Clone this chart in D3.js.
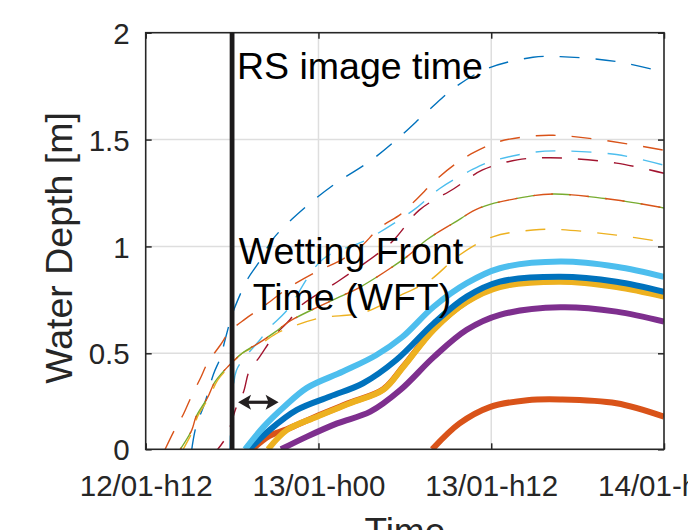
<!DOCTYPE html>
<html>
<head>
<meta charset="utf-8">
<script src="https://cdn.jsdelivr.net/npm/d3@7"></script>
<style>
  body { margin: 0; background: #fff; }
  svg { font-family: "Liberation Sans", Arial, sans-serif; }
</style>
</head>
<body>
<div id="chart-area"></div>
<script>
// x values are hours after 12/01-h12, y values water depth in m
const tickHours = [0, 12, 24, 36];
const tickLabels = ['12/01-h12', '13/01-h00', '13/01-h12', '14/01-h00'];
const depthTicks = [0, 0.5, 1, 1.5, 2];
const rsImageHour = 6;

// thin dashed series
const dashBlue = [[3.2,0],[3.5,0.12],[4.1,0.24],[4.7,0.39],[5.2,0.48],[5.5,0.56],[6.0,0.68],[6.4,0.75],[7.1,0.85],[7.8,0.92],[8.9,1.04],[11.2,1.19],[13.3,1.3],[15.6,1.4],[17.6,1.51],[19.7,1.64],[21.6,1.75],[23.8,1.834],[26.9,1.885],[28.8,1.888],[32.7,1.865],[36,1.815]];
const dashOrange = [[1.35,0],[2.0,0.1],[2.6,0.18],[3.2,0.28],[3.8,0.37],[4.3,0.45],[5.2,0.54],[5.8,0.6],[6.9,0.66],[8.2,0.72],[10.0,0.81],[12.1,0.89],[13.4,0.93],[14.8,0.99],[16.3,1.09],[17.7,1.15],[18.8,1.22],[20.3,1.32],[21.6,1.39],[22.8,1.44],[24.5,1.49],[26.5,1.514],[28.3,1.52],[31.5,1.5],[36,1.45]];
const dashLightBlue = [[5.85,0],[6.0,0.25],[6.3,0.41],[6.9,0.48],[7.9,0.56],[8.6,0.62],[9.8,0.7],[12.3,0.94],[15.3,1.03],[18.6,1.17],[20.4,1.27],[22.7,1.36],[24.1,1.4],[26.9,1.44],[28.5,1.447],[32.7,1.43],[36,1.38]];
const dashDarkRed = [[5.0,0],[5.6,0.065],[6.3,0.22],[6.8,0.3],[7.2,0.41],[7.9,0.48],[8.9,0.58],[10.0,0.656],[10.7,0.718],[13.5,0.843],[17.0,1.015],[19.0,1.17],[21.4,1.27],[23.4,1.358],[25.8,1.405],[28.1,1.415],[32.7,1.39],[36,1.342]];
const dashGreen = [[2.4,0],[3.2,0.1],[3.5,0.17],[4.3,0.27],[4.8,0.35],[5.7,0.43],[6.7,0.5],[7.9,0.55],[9.0,0.6],[10.0,0.65],[13.5,0.765],[14.9,0.81],[18.1,0.95],[19.5,1.03],[21.4,1.11],[23.2,1.18],[25.8,1.225],[28.3,1.245],[32.7,1.217],[36,1.18]];
const dashYellow = [[2.6,0],[3.3,0.1],[3.6,0.17],[4.4,0.27],[5.0,0.36],[5.8,0.43],[6.7,0.5],[7.9,0.54],[9.0,0.59],[10.0,0.62],[12.1,0.665],[15.1,0.69],[17.5,0.765],[19.7,0.84],[21.8,0.96],[24.1,1.045],[26.9,1.077],[28.5,1.08],[32.7,1.053],[36,1.02]];

// thick solid series
const solidOrangeEarly = [[7.4,0],[8.6,0.07],[9.8,0.104],[11.9,0.173],[14.2,0.243],[16.5,0.313],[17.9,0.433],[20.0,0.613],[22.3,0.743],[24.6,0.813],[28.8,0.838],[32.7,0.813],[36,0.768]];
const solidYellow = [[8.5,0],[9.8,0.1],[11.9,0.17],[14.2,0.24],[16.5,0.31],[17.9,0.43],[20.0,0.61],[22.3,0.74],[24.6,0.81],[28.8,0.835],[32.7,0.81],[36,0.765]];
const solidBlue = [[7.2,0],[8.6,0.1],[10.5,0.205],[12.8,0.275],[15.1,0.344],[17.4,0.465],[20.0,0.64],[22.3,0.765],[24.6,0.835],[28.8,0.858],[32.7,0.835],[36,0.788]];
const solidLightBlue = [[6.9,0],[8.2,0.118],[9.6,0.22],[11.2,0.32],[13.7,0.405],[16.0,0.49],[17.8,0.575],[20.0,0.718],[22.3,0.828],[24.6,0.898],[28.8,0.929],[32.7,0.905],[36,0.858]];
const solidPurple = [[9.4,0],[11.2,0.066],[13.3,0.135],[15.6,0.196],[17.7,0.31],[20.0,0.48],[22.3,0.61],[24.6,0.68],[28.8,0.715],[32.7,0.695],[36,0.648]];
const solidOrangeLate = [[19.9,0],[21.8,0.135],[23.9,0.22],[26.5,0.256],[28.8,0.26],[32.7,0.24],[36,0.17]];

const margin = { top: 32.7, right: 24, left: 145.7, bottom: 80.7 };
const width = 688 - margin.left - margin.right;
const height = 530 - margin.top - margin.bottom;

const svg = d3.select('#chart-area').append('svg')
  .attr('width', 688)
  .attr('height', 530);

const g = svg.append('g')
  .attr('transform', `translate(${margin.left}, ${margin.top})`);

const x = d3.scaleLinear().domain([0, 36]).range([0, width]);
// the picture's y axis is slightly stretched between 0 and 0.5
const y = d3.scaleLinear().domain([0, 0.5, 2]).range([height, 320.6, 0]);

g.append('defs').append('clipPath').attr('id', 'plot-clip')
  .append('rect').attr('width', width).attr('height', height);

// grid
g.selectAll('.vgrid').data(tickHours.slice(1, -1)).enter().append('line')
  .attr('x1', d => x(d)).attr('x2', d => x(d))
  .attr('y1', 0).attr('y2', height)
  .attr('stroke', '#dedede').attr('stroke-width', 1.5);
g.selectAll('.hgrid').data(depthTicks.slice(1, -1)).enter().append('line')
  .attr('x1', 0).attr('x2', width)
  .attr('y1', d => y(d)).attr('y2', d => y(d))
  .attr('stroke', '#dedede').attr('stroke-width', 1.5);

const line = d3.line()
  .x(d => x(d[0]))
  .y(d => y(d[1]))
  .curve(d3.curveCatmullRom.alpha(0.5));

const lines = g.append('g').attr('clip-path', 'url(#plot-clip)');

const dashed = [
  { data: dashBlue, color: '#0072BD', offset: 0 },
  { data: dashLightBlue, color: '#4DBEEE', offset: 6 },
  { data: dashDarkRed, color: '#A2142F', offset: 10 },
  { data: dashYellow, color: '#EDB120', offset: 4 },
  { data: dashGreen, color: '#77AC30', offset: 0 },
  { data: dashGreen, color: '#D95319', offset: 18 },
  { data: dashOrange, color: '#D95319', offset: 0 }
];

lines.selectAll('.dashed').data(dashed).enter().append('path')
  .attr('class', 'dashed')
  .attr('d', d => line(d.data))
  .attr('fill', 'none')
  .attr('stroke', d => d.color)
  .attr('stroke-width', 1.4)
  .attr('stroke-dasharray', '20,16')
  .attr('stroke-dashoffset', d => d.offset);

const solid = [
  { data: solidOrangeEarly, color: '#D95319' },
  { data: solidYellow, color: '#EDB120' },
  { data: solidBlue, color: '#0072BD' },
  { data: solidLightBlue, color: '#4DBEEE' },
  { data: solidPurple, color: '#7E2F8E' },
  { data: solidOrangeLate, color: '#D95319' }
];

lines.selectAll('.solid').data(solid).enter().append('path')
  .attr('class', 'solid')
  .attr('d', d => line(d.data))
  .attr('fill', 'none')
  .attr('stroke', d => d.color)
  .attr('stroke-width', 6);

// axes: ticks point inward, box on all four sides
const xAxis = g.append('g').attr('transform', `translate(0, ${height})`)
  .call(d3.axisBottom(x).tickValues(tickHours).tickSize(-6)
    .tickFormat((d, i) => tickLabels[i]));
xAxis.selectAll('text')
  .attr('y', 46.5).attr('dy', 0)
  .attr('font-size', '29.5px').attr('fill', '#262626');

const yAxis = g.append('g')
  .call(d3.axisLeft(y).tickValues(depthTicks).tickSize(-6).tickPadding(16)
    .tickFormat(d => d));
yAxis.selectAll('text')
  .attr('dy', '0.36em')
  .attr('font-size', '29.5px').attr('fill', '#262626');

g.append('g').call(d3.axisTop(x).tickValues(tickHours).tickSize(-6).tickFormat(''));
g.append('g').attr('transform', `translate(${width}, 0)`)
  .call(d3.axisRight(y).tickValues(depthTicks).tickSize(-6).tickFormat(''));

g.selectAll('.domain').remove();
g.selectAll('.tick line').attr('stroke', '#262626').attr('stroke-width', 1.5);

g.append('rect')
  .attr('width', width).attr('height', height)
  .attr('fill', 'none').attr('stroke', '#262626').attr('stroke-width', 1.6);

// RS image time marker
g.append('line')
  .attr('x1', x(rsImageHour)).attr('x2', x(rsImageHour))
  .attr('y1', 0).attr('y2', height)
  .attr('stroke', '#1c1a1b').attr('stroke-width', 4.8);

// double arrow
const arrowY = y(0.245);
const ax0 = x(rsImageHour) + 6, ax1 = x(rsImageHour) + 46.5;
g.append('line')
  .attr('x1', ax0 + 8).attr('x2', ax1 - 8)
  .attr('y1', arrowY).attr('y2', arrowY)
  .attr('stroke', '#231f20').attr('stroke-width', 3.2);
g.append('path')
  .attr('d', `M${ax0},${arrowY} L${ax0 + 13},${arrowY - 7.5} L${ax0 + 10},${arrowY} L${ax0 + 13},${arrowY + 7.5} Z`)
  .attr('fill', '#231f20');
g.append('path')
  .attr('d', `M${ax1},${arrowY} L${ax1 - 13},${arrowY - 7.5} L${ax1 - 10},${arrowY} L${ax1 - 13},${arrowY + 7.5} Z`)
  .attr('fill', '#231f20');

// annotations
svg.append('text')
  .attr('x', 237).attr('y', 79)
  .attr('font-size', '37.5px')
  .text('RS image time');

svg.append('text')
  .attr('x', 351).attr('y', 264)
  .attr('font-size', '37.5px')
  .attr('text-anchor', 'middle')
  .text('Wetting Front');

svg.append('text')
  .attr('x', 352).attr('y', 310)
  .attr('font-size', '37.5px')
  .attr('text-anchor', 'middle')
  .text('Time (WFT)');

// axis labels
svg.append('text')
  .attr('transform', `translate(72, 248) rotate(-90)`)
  .attr('font-size', '37.5px')
  .attr('text-anchor', 'middle')
  .attr('fill', '#262626')
  .text('Water Depth [m]');

svg.append('text')
  .attr('x', margin.left + width / 2).attr('y', 544)
  .attr('font-size', '37px')
  .attr('text-anchor', 'middle')
  .attr('fill', '#262626')
  .text('Time');
</script>
</body>
</html>
